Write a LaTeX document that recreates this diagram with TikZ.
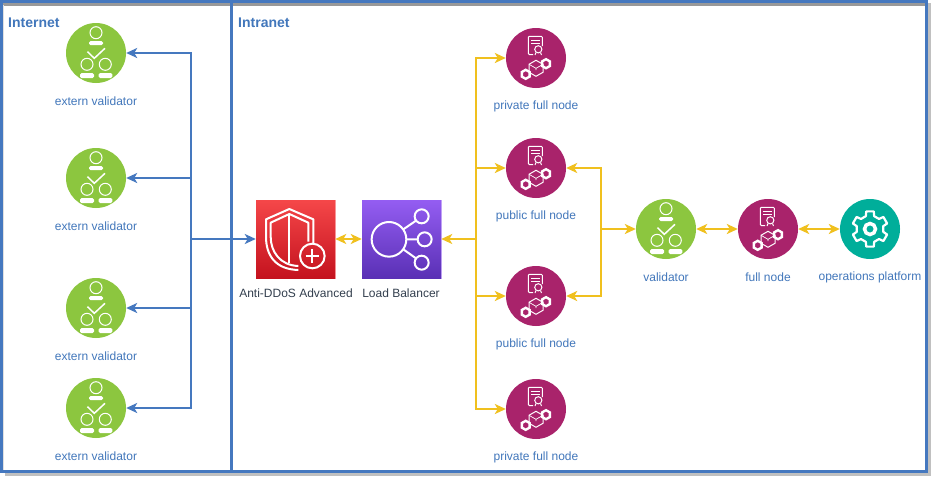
\documentclass[tikz,border=0pt]{standalone}
\usepackage{fontspec}
\setmainfont{Liberation Sans}
\usetikzlibrary{arrows.meta}
\definecolor{frameblue}{HTML}{4578BF}
\definecolor{lineyellow}{HTML}{F0C01E}
\definecolor{vgreen}{HTML}{8CC63F}
\definecolor{fmag}{HTML}{A9236B}
\definecolor{opteal}{HTML}{00AE9A}
\definecolor{labelblue}{HTML}{4277BB}
\definecolor{labeldark}{HTML}{333F4E}
\definecolor{shadowlight}{HTML}{C0C0C0}
\definecolor{shadowdark}{HTML}{999999}
\definecolor{redtop}{HTML}{F54749}
\definecolor{redbot}{HTML}{C4121E}
\definecolor{purtop}{HTML}{945DF2}
\definecolor{purbot}{HTML}{5A30B5}
\tikzset{
  x=1pt,y=-1pt,
  framebox/.style={draw=frameblue,line width=3pt},
  frameshadow/.style={draw=shadowlight,line width=3pt},
  disc/.style={circle,inner sep=0pt,minimum size=60pt,draw=none},
  validatordisc/.style={disc,fill=vgreen},
  fullnodedisc/.style={disc,fill=fmag},
  opsdisc/.style={disc,fill=opteal},
  lbl/.style={font=\fontsize{12pt}{14pt}\selectfont,text=labelblue,inner sep=0pt,anchor=center},
  lbldark/.style={font=\fontsize{12pt}{14pt}\selectfont,text=labeldark,inner sep=0pt,anchor=center},
  zone/.style={font=\fontsize{14pt}{16pt}\selectfont\bfseries,text=labelblue,inner sep=0pt,anchor=west},
  tilebox/.style={rectangle,inner sep=0pt,minimum width=79pt,minimum height=78pt},
  blueline/.style={draw=frameblue,line width=2.4pt,-{Stealth[length=11pt,width=10pt,inset=3pt]}},
  yline/.style={draw=lineyellow,line width=2.4pt,-{Stealth[length=11pt,width=10pt,inset=3pt]}},
  ydouble/.style={draw=lineyellow,line width=2.4pt,{Stealth[length=11pt,width=10pt,inset=3pt]}-{Stealth[length=11pt,width=10pt,inset=3pt]}},
  icon/.style={draw=white,line width=1pt,fill=none},
  iconw/.style={fill=white,draw=none},
  tileicon/.style={draw=white,line width=2pt,fill=none,line join=round},
}
\newcommand{\validatoricon}[1]{%
  \begin{scope}[shift={(#1)}]
    \draw[icon] (0,-20.3) circle (6);
    \fill[iconw,rounded corners=1.5pt] (-7,-12) rectangle (7,-8);
    \draw[icon,line width=1.5pt] (-8.5,-1.3) -- (-1.7,5.3) -- (9,-4.7);
    \draw[icon] (-9,11.3) circle (6);
    \draw[icon] (9.3,11.3) circle (6);
    \fill[iconw,rounded corners=1.5pt] (-16,20) rectangle (-2,25);
    \fill[iconw,rounded corners=1.5pt] (2.7,20) rectangle (16.3,25);
  \end{scope}}
\newcommand{\fullnodeicon}[1]{%
  \begin{scope}[shift={(#1)}]
    \draw[icon,rounded corners=1pt] (-3,-3.5) -- (-7.7,-3.5) -- (-7.7,-21.7) -- (6.3,-21.7) -- (6.3,-12);
    \draw[icon] (-4.8,-17.5) -- (3.5,-17.5) (-4.8,-14.5) -- (3.5,-14.5);
    \draw[icon] (2.3,-8.7) circle (3.6);
    \draw[icon] (0,-5.5) -- (-1,-3) (4.5,-5.5) -- (5.5,-3);
    \draw[icon] (0,2.3) -- (7,6.3) -- (7,14.3) -- (0,18.3) -- (-7,14.3) -- (-7,6.3) -- cycle;
    \draw[icon,line width=.7pt] (-7,6.3) -- (0,10.3) -- (7,6.3) (0,10.3) -- (0,12);
    \draw[draw=white,line width=2.4pt] (-10.3,11.8) -- (-6.4,14) -- (-6.4,18.6) -- (-10.3,20.8) -- (-14.2,18.6) -- (-14.2,14) -- cycle;
    \draw[draw=white,line width=2.4pt] (10,1.2) -- (13.9,3.4) -- (13.9,8) -- (10,10.2) -- (6.1,8) -- (6.1,3.4) -- cycle;
  \end{scope}}
\begin{document}
\begin{tikzpicture}
  \useasboundingbox (0,0) rectangle (931,477);
  \fill[white] (0,0) rectangle (931,477);
  % frame shadow, then frames
  \draw[frameshadow] (929.5,3) -- (929.5,474.5) -- (5,474.5);
  \draw[draw=shadowdark,line width=2.6pt] (3,4.3) -- (928,4.3);
  \draw[draw=black!12,line width=1.5pt] (3.7,5) -- (3.7,470);
  \draw[framebox] (1.5,1.5) rectangle (231.5,471.4);
  \draw[framebox] (231.5,1.5) rectangle (926.4,471.4);
  \node[zone] (internet) at (8,22.5) {Internet};
  \node[zone] (intranet) at (238,22.5) {Intranet};

  % extern validators
  \node[validatordisc] (ev1) at (96,53) {};
  \node[validatordisc] (ev2) at (96,178) {};
  \node[validatordisc] (ev3) at (96,308) {};
  \node[validatordisc] (ev4) at (96,408) {};
  \validatoricon{96,53}\validatoricon{96,178}\validatoricon{96,308}\validatoricon{96,408}
  \node[lbl] (ev1l) at (96,101) {extern validator};
  \node[lbl] (ev2l) at (96,226) {extern validator};
  \node[lbl] (ev3l) at (96,356) {extern validator};
  \node[lbl] (ev4l) at (96,456) {extern validator};

  % tiles
  \node[tilebox,draw=redtop!50!white,line width=.5pt] (ddos) at (295.5,239) {};
  \shade[top color=redtop,bottom color=redbot] (256,200) rectangle (335,278);
  \node[tilebox,draw=purtop!50!white,line width=.5pt] (lb) at (401.5,239) {};
  \shade[top color=purtop,bottom color=purbot] (362,200) rectangle (441,278);
  \node[lbldark] (ddosl) at (296,293) {Anti-DDoS Advanced};
  \node[lbldark] (lbl) at (401,293) {Load Balancer};
  % shield icon
  \begin{scope}[shift={(230,190)},x=.3333pt,y=-.3333pt]
    \draw[tileicon] (250,160) -- (250,88) -- (178,57) -- (108,88) -- (108,140) .. controls (108,195) and (135,238) .. (205,240);
    \draw[tileicon] (235,155) -- (235,98) -- (178,72) -- (122,98) -- (122,140) .. controls (122,185) and (150,226) .. (205,228);
    \draw[tileicon] (178,72) -- (178,218);
    \draw[tileicon] (247,198) circle (37);
    \draw[tileicon] (227,198) -- (267,198) (247,178) -- (247,218);
    % load-balancer icon
    \draw[tileicon] (477,148) circle (52);
    \draw[tileicon] (575,79) circle (21);
    \draw[tileicon] (584,148) circle (21);
    \draw[tileicon] (575,218) circle (21);
    \draw[tileicon] (520,118) -- (558,92) (529,148) -- (563,148) (520,178) -- (558,205);
  \end{scope}

  % full nodes
  \node[fullnodedisc] (pf1) at (536,58) {};
  \node[fullnodedisc] (pu1) at (536,168) {};
  \node[fullnodedisc] (pu2) at (536,296) {};
  \node[fullnodedisc] (pf2) at (536,409) {};
  \fullnodeicon{536,58}\fullnodeicon{536,168}\fullnodeicon{536,296}\fullnodeicon{536,409}
  \node[lbl] (pf1l) at (536,106) {private full node};
  \node[lbl] (pu1l) at (536,216) {public full node};
  \node[lbl] (pu2l) at (536,344) {public full node};
  \node[lbl] (pf2l) at (536,457) {private full node};

  % right-hand chain
  \node[validatordisc] (val) at (666,229) {};
  \validatoricon{666,229}
  \node[fullnodedisc] (fn) at (768,229) {};
  \fullnodeicon{768,229}
  \node[opsdisc] (ops) at (870,229) {};
  \begin{scope}[shift={(870,229)}]
    \foreach \a in {30,90,150,210,270,330} {
      \draw[draw=white,line width=2.2pt,line join=round,line cap=round]
        ({\a-18}:13.5) -- ({\a-12}:18) -- ({\a+12}:18) -- ({\a+18}:13.5) -- ({\a+42}:13.5);
    }
    \draw[white,line width=3.5pt] (0,0) circle (5.5);
  \end{scope}
  \node[lbl] (vall) at (666,277) {validator};
  \node[lbl] (fnl) at (768,277) {full node};
  \node[lbl] (opsl) at (870,277) {operations platform};

  % junctions
  \coordinate (bj) at (191,239);
  \coordinate (yj) at (476,239);
  \coordinate (vj) at (601,229);

  % blue connectors
  \foreach \n in {ev1,ev2,ev3,ev4} \draw[blueline] (bj) |- (\n.east);
  \draw[blueline,line width=2.8pt] (bj) -- (ddos.west);

  % yellow connectors
  \draw[ydouble] (ddos.east) -- (lb.west);
  \draw[yline] (yj) -- (lb.east);
  \draw[yline] (yj) |- (pf1.west);
  \draw[yline] (yj) |- (pu1.west);
  \draw[yline] (yj) |- (pu2.west);
  \draw[yline] (yj) |- (pf2.west);
  \draw[yline] (vj) |- (pu1.east);
  \draw[yline] (vj) |- (pu2.east);
  \draw[yline] (vj) -- (val.west);
  \draw[ydouble] (val.east) -- (fn.west);
  \draw[ydouble] (fn.east) -- (ops.west);
\end{tikzpicture}
\end{document}
